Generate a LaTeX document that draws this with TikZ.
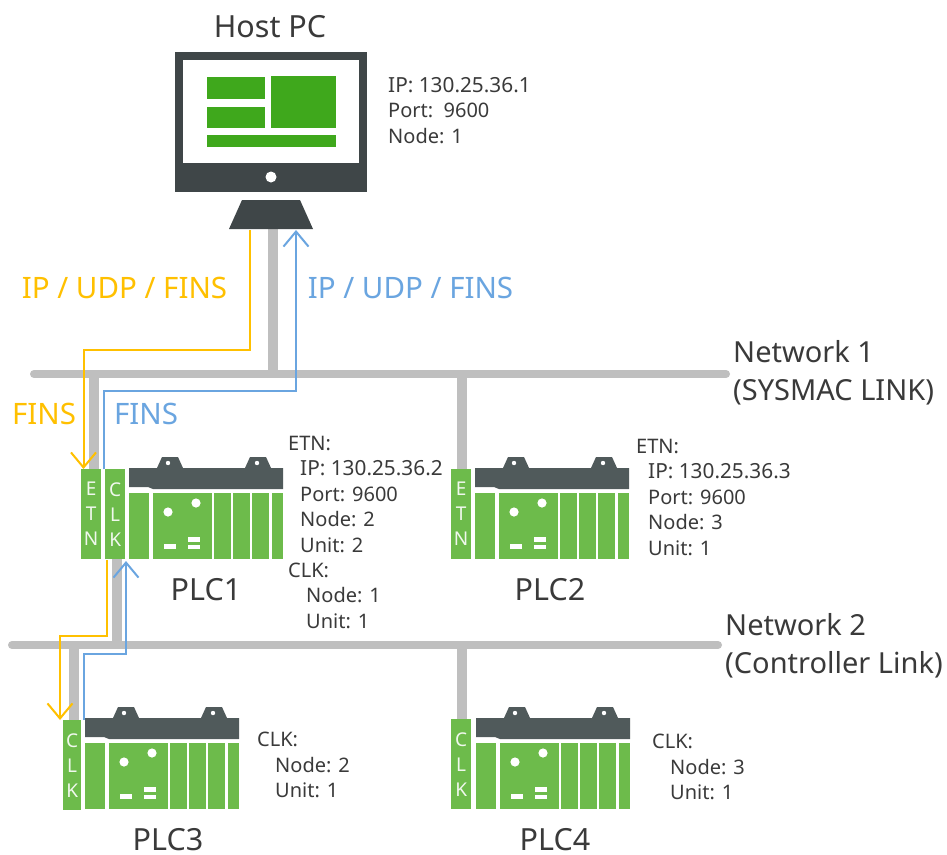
\documentclass[tikz,border=0pt]{standalone}
\usepackage{fontspec}
\setmainfont{Noto Sans}
\usetikzlibrary{arrows.meta}
\definecolor{monitordark}{HTML}{3F4648}
\definecolor{screengreen}{HTML}{3FA81C}
\definecolor{plcgreen}{HTML}{6DBB4B}
\definecolor{plcdark}{HTML}{505A5B}
\definecolor{busgray}{HTML}{BFBFBF}
\definecolor{flowyellow}{HTML}{FFC000}
\definecolor{flowblue}{HTML}{6AA5E0}
\definecolor{inktext}{HTML}{3A3A3A}
\newcommand{\ipsize}{\fontsize{20.8}{25.4}\selectfont}
\tikzset{
  busline/.style={draw=busgray,line width=8pt,line cap=round},
  dropline/.style={draw=busgray,line width=10pt},
  yflow/.style={draw=flowyellow,line width=2pt,-{Straight Barb[length=15pt,width=25pt,line width=2pt]}},
  bflow/.style={draw=flowblue,line width=2pt,-{Straight Barb[length=15pt,width=25pt,line width=2pt]}},
  cardbox/.style={fill=plcgreen,draw=none,minimum width=20pt,minimum height=90pt,inner sep=0pt,
    text=white!90!plcgreen,align=center,font=\fontsize{19}{25}\selectfont,anchor=north west},
  infotext/.style={anchor=north west,inner sep=0pt,align=left,text=inktext,font=\fontsize{20}{25.4}\selectfont},
  plctitle/.style={inner sep=0pt,text=inktext,font=\fontsize{30.5}{32}\selectfont},
  netlabel/.style={anchor=west,inner sep=0pt,text=inktext,font=\fontsize{29}{32}\selectfont},
  flowlabel/.style={inner sep=0pt,font=\fontsize{29.5}{32}\selectfont},
}
\newcommand{\plcbody}[2]{%
  \begin{scope}[shift={(#1,#2)}]
    \fill[plcdark] (0,0) -- (28,0) -- (33,-11) -- (49,-11) -- (54,0) -- (116,0) -- (121,-11) -- (137,-11) -- (142,0)
      -- (154,0) -- (154,21) -- (24,21) -- (19,19) -- (0,19) -- cycle;
    \fill[white] (39,-5) circle (2.2) (128,-5) circle (2.2);
    \fill[plcgreen] (0,25) rectangle (20,91);
    \fill[plcgreen] (24,25) rectangle (83,91);
    \fill[plcgreen] (84.5,25) rectangle (102,91);
    \fill[plcgreen] (104,25) rectangle (120.5,91);
    \fill[plcgreen] (122.5,25) rectangle (140,91);
    \fill[plcgreen] (142.5,25) rectangle (154,91);
    \fill[white] (39,44) circle (4.6) (67,35) circle (4.6);
    \fill[white] (35,76) rectangle (47,81);
    \fill[white] (59,69) rectangle (71,73.5);
    \fill[white] (59,77) rectangle (71,81);
  \end{scope}}
\begin{document}
\begin{tikzpicture}[x=1pt,y=-1pt]
\useasboundingbox (0,0) rectangle (947,854);
\fill[white] (0,0) rectangle (947,854);
% named points
\coordinate (standbase) at (273,228);
\coordinate (busAleft) at (34,374);
\coordinate (busAright) at (726,374);
\coordinate (busBleft) at (12,645);
\coordinate (busBright) at (718,645);
\coordinate (tapHost) at (273,374);
\coordinate (tapEtnA) at (94,374);
\coordinate (tapEtnB) at (462,374);
\coordinate (tapClkA) at (117,645);
\coordinate (tapClkC) at (74,645);
\coordinate (tapClkD) at (462,645);
% PLC cards
\plcbody{129}{468}
\plcbody{475}{468}
\plcbody{85}{718}
\plcbody{476}{718}
\node[cardbox] (etnA) at (81,469) {E\\T\\N};
\node[cardbox] (clkA) at (105,469) {C\\L\\K};
\node[cardbox] (etnB) at (451,469) {E\\T\\N};
\node[cardbox,minimum width=18pt] (clkC) at (63,720) {C\\L\\K};
\node[cardbox] (clkD) at (451,719) {C\\L\\K};
% buses
\draw[dropline] (standbase) -- (tapHost);
\draw[dropline] (tapEtnA) -- (tapEtnA |- etnA.north);
\draw[dropline] (tapEtnB) -- (tapEtnB |- etnB.north);
\draw[dropline] (tapClkA |- clkA.south) -- (tapClkA);
\draw[dropline] (tapClkC) -- (tapClkC |- clkC.north);
\draw[dropline] (tapClkD) -- (tapClkD |- clkD.north);
\draw[busline] (busAleft) -- (busAright);
\draw[busline] (busBleft) -- (busBright);
% monitor
\fill[monitordark] (175,52) rectangle (367,192);
\fill[white] (183,60) rectangle (359,163);
\fill[screengreen] (207,77) rectangle (265,99);
\fill[screengreen] (207,107) rectangle (265,128);
\fill[screengreen] (271,76) rectangle (336,128);
\fill[screengreen] (207,135) rectangle (336,147);
\fill[white] (271,177) circle (5.5);
\fill[monitordark] (242,200) -- (300,200) -- (313,229) -- (229,229) -- cycle;
% yellow / blue flow lines
\coordinate (yA) at (250,230);
\coordinate (yB) at (250,350);
\coordinate (yC) at (83.5,350);
\coordinate (yD) at (83.5,469);
\draw[yflow] (yA) -- (yB) -- (yC) -- (yD);
\coordinate (bA) at (104,469);
\coordinate (bB) at (104,391);
\coordinate (bC) at (296,391);
\coordinate (bD) at (296,230);
\draw[bflow] (bA) -- (bB) -- (bC) -- (bD);
\coordinate (yE) at (107,560);
\coordinate (yF) at (107,636);
\coordinate (yG) at (60,636);
\coordinate (yH) at (60,720);
\draw[yflow] (yE) -- (yF) -- (yG) -- (yH);
\coordinate (bE) at (84,720);
\coordinate (bF) at (84,654);
\coordinate (bG) at (126,654);
\coordinate (bH) at (126,561);
\draw[bflow] (bE) -- (bF) -- (bG) -- (bH);
% labels
\node[plctitle] (hostlabel) at (270,27) {Host PC};
\node[infotext] (hostinfo) at (388,77) {{\ipsize IP: 130.25.36.1}\\Port:~~9600\\Node: 1};
\node[flowlabel,text=flowyellow] (ylabA) at (124.5,288) {IP / UDP / FINS};
\node[flowlabel,text=flowblue] (blabA) at (410.5,288) {IP / UDP / FINS};
\node[flowlabel,text=flowyellow] (ylabB) at (44,414) {FINS};
\node[flowlabel,text=flowblue] (blabB) at (146,414) {FINS};
\node[netlabel] (netA) at (733,352) {Network 1};
\node[netlabel] (netAsub) at (733,392) {(SYSMAC LINK)};
\node[netlabel] (netB) at (725,625) {Network 2};
\node[netlabel] (netBsub) at (725,665) {(Controller Link)};
\node[infotext] (infoA) at (288,436) {ETN:\\\hspace*{12pt}{\ipsize IP: 130.25.36.2}\\\hspace*{12pt}Port: 9600\\\hspace*{12pt}Node: 2\\\hspace*{12pt}Unit: 2\\CLK:\\\hspace*{18pt}Node: 1\\\hspace*{18pt}Unit: 1};
\node[infotext] (infoB) at (636,439) {ETN:\\\hspace*{12pt}{\ipsize IP: 130.25.36.3}\\\hspace*{12pt}Port: 9600\\\hspace*{12pt}Node: 3\\\hspace*{12pt}Unit: 1};
\node[infotext] (infoC) at (257,732) {CLK:\\\hspace*{18pt}Node: 2\\\hspace*{18pt}Unit: 1};
\node[infotext] (infoD) at (652,734) {CLK:\\\hspace*{18pt}Node: 3\\\hspace*{18pt}Unit: 1};
\node[plctitle] (plcA) at (206,590) {PLC1};
\node[plctitle] (plcB) at (550,590) {PLC2};
\node[plctitle] (plcC) at (168,840) {PLC3};
\node[plctitle] (plcD) at (555,840) {PLC4};
\end{tikzpicture}
\end{document}
